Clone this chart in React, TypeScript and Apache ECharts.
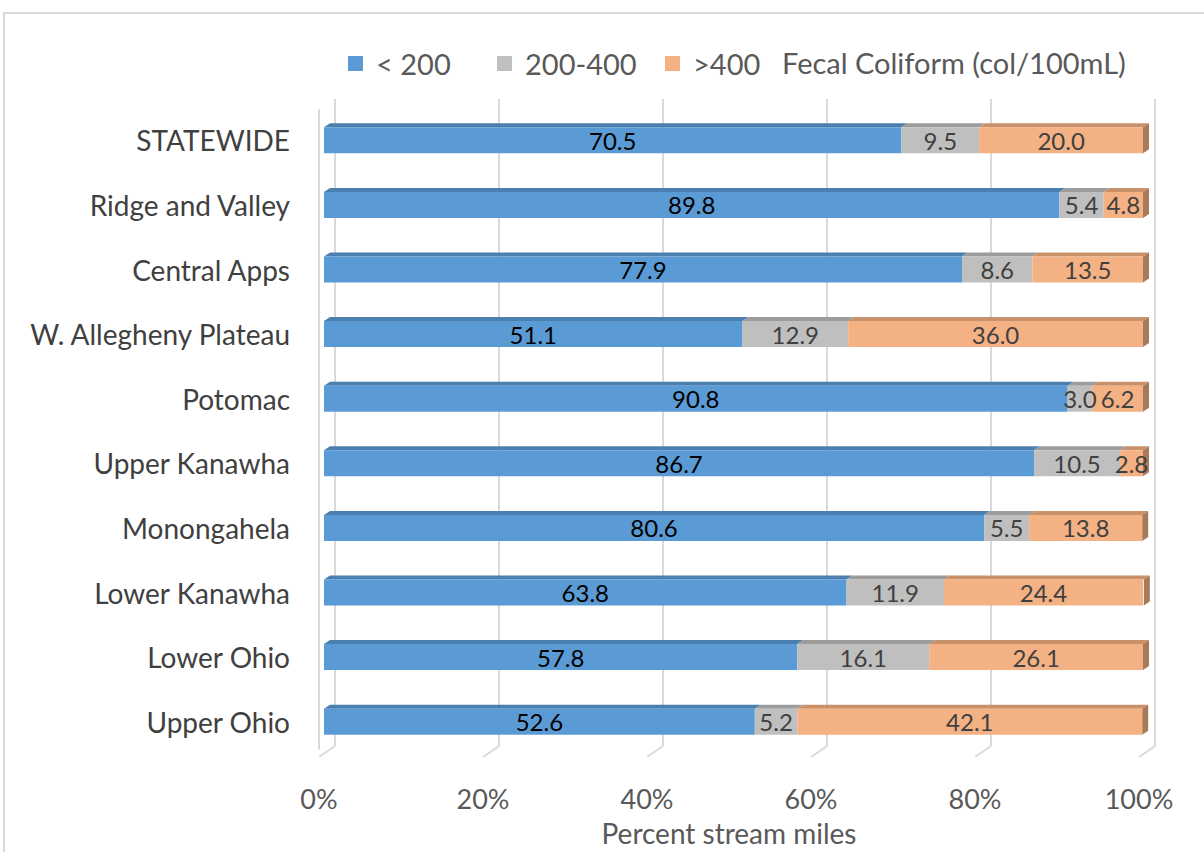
import React, { useEffect, useRef } from "react";
import * as echarts from "echarts";

const categories = [
  "STATEWIDE",
  "Ridge and Valley",
  "Central Apps",
  "W. Allegheny Plateau",
  "Potomac",
  "Upper Kanawha",
  "Monongahela",
  "Lower Kanawha",
  "Lower Ohio",
  "Upper Ohio",
];
const below200 = [70.5, 89.8, 77.9, 51.1, 90.8, 86.7, 80.6, 63.8, 57.8, 52.6];
const mid200to400 = [9.5, 5.4, 8.6, 12.9, 3.0, 10.5, 5.5, 11.9, 16.1, 5.2];
const above400 = [20.0, 4.8, 13.5, 36.0, 6.2, 2.8, 13.8, 24.4, 26.1, 42.1];
const seriesNames = ["< 200", "200-400", ">400"];
const tickValues = [0, 20, 40, 60, 80, 100];

const FRONT = ["#5b9bd5", "#bfbfbf", "#f4b183"];
const TOP = ["#4a7fb0", "#9c9c9c", "#c8916a"];
const SIDE = "#a97a58";
const FONT = "Lato";

export default function App() {
  const ref = useRef<HTMLDivElement>(null);
  useEffect(() => {
    if (!ref.current) return;
    const chart = echarts.init(ref.current, undefined, { renderer: "svg" });
    const all = [below200, mid200to400, above400];
    const segs: any[] = [];
    categories.forEach((_, ci) => {
      let acc = 0;
      all.forEach((arr, si) => {
        segs.push([acc, acc + arr[ci], ci, si]);
        acc += arr[ci];
      });
    });
    const BW = 26;
    const option: any = {
      animation: false,
      backgroundColor: "#ffffff",
      textStyle: { fontFamily: FONT },
      graphic: [
        {
          type: "rect",
          shape: { x: 4, y: 13, width: 1250, height: 900 },
          style: { fill: "none", stroke: "#d9d9d9", lineWidth: 2 },
          silent: true,
          z: -10,
        },
      ],
      title: {
        text: "Fecal Coliform (col/100mL)",
        left: 782,
        top: 48,
        padding: 0,
        textStyle: { fontFamily: FONT, fontSize: 29, fontWeight: "normal", color: "#595959" },
      },
      legend: [0, 1, 2].map((i) => ({
        data: [seriesNames[i]],
        left: [348, 497, 665][i],
        top: 49,
        padding: 0,
        itemWidth: 15,
        itemHeight: 15,
        icon: "rect",
        selectedMode: false,
        textStyle: { fontFamily: FONT, fontSize: 29, color: "#595959", padding: [0, 0, 0, 8] },
      })),
      grid: [
        { left: 324, top: 108, width: 819, height: 646 },
        { left: 319, top: 110, width: 820, height: 647 },
        { left: 335, top: 99, width: 820, height: 647 },
      ],
      xAxis: [
        { gridIndex: 0, type: "value", min: 0, max: 100, show: false },
        {
          gridIndex: 1, type: "value", min: 0, max: 100, interval: 20,
          axisLine: { show: false }, axisTick: { show: false }, splitLine: { show: false },
          axisLabel: {
            formatter: (v: number) => v + "%",
            fontFamily: FONT, fontSize: 27, color: "#595959", margin: 36,
          },
          name: "Percent stream miles",
          nameLocation: "middle",
          nameGap: 70,
          nameTextStyle: { fontFamily: FONT, fontSize: 28, color: "#595959" },
        },
        {
          gridIndex: 2, type: "value", min: 0, max: 100, interval: 20,
          axisLine: { show: false }, axisTick: { show: false }, axisLabel: { show: false },
          splitLine: { show: true, lineStyle: { color: "#d9d9d9", width: 2 } },
        },
      ],
      yAxis: [
        {
          gridIndex: 0, type: "category", data: categories, inverse: true,
          axisLine: { show: false }, axisTick: { show: false },
          axisLabel: { fontFamily: FONT, fontSize: 28, color: "#404040", margin: 34 },
        },
        {
          gridIndex: 1, type: "value", min: 0, max: 1, show: true,
          axisLine: { show: true, lineStyle: { color: "#d9d9d9", width: 2 } },
          axisTick: { show: false }, axisLabel: { show: false }, splitLine: { show: false },
        },
        { gridIndex: 2, type: "value", min: 0, max: 1, show: false },
      ],
      series: [
        {
          type: "custom",
          xAxisIndex: 2,
          yAxisIndex: 2,
          silent: true,
          data: tickValues.map((v) => [v, 0]),
          renderItem: (params: any, api: any) => {
            const p = api.coord([api.value(0), 0]);
            return {
              type: "line",
              shape: { x1: p[0], y1: p[1], x2: p[0] - 16, y2: p[1] + 11 },
              style: { stroke: "#d9d9d9", lineWidth: 2 },
            };
          },
          z: 1,
        },
        ...all.map((arr, si) => ({
          type: "bar",
          name: seriesNames[si],
          stack: "total",
          xAxisIndex: 0,
          yAxisIndex: 0,
          barWidth: BW,
          data: arr,
          itemStyle: { color: FRONT[si] },
          label: {
            show: true,
            position: "inside",
            formatter: (p: any) => Number(p.value).toFixed(1),
            fontFamily: FONT,
            fontSize: 24,
            color: si === 0 ? "#000000" : "#404040",
          },
          z: 3,
        })),
        {
          type: "custom",
          xAxisIndex: 0,
          yAxisIndex: 0,
          silent: true,
          data: segs,
          renderItem: (params: any, api: any) => {
            const s = api.value(0);
            const e = api.value(1);
            const ci = api.value(2);
            const si = api.value(3);
            const p0 = api.coord([s, ci]);
            const p1 = api.coord([e, ci]);
            const yT = p0[1] - BW / 2;
            const yB = p0[1] + BW / 2;
            const dx = 6, dy = 4;
            const children: any[] = [
              {
                type: "polygon",
                shape: { points: [[p0[0], yT], [p1[0], yT], [p1[0] + dx, yT - dy], [p0[0] + dx, yT - dy]] },
                style: { fill: TOP[si] },
              },
            ];
            if (si === 2) {
              children.push({
                type: "polygon",
                shape: { points: [[p1[0], yT], [p1[0] + dx, yT - dy], [p1[0] + dx, yB - dy], [p1[0], yB]] },
                style: { fill: SIDE },
              });
            }
            return { type: "group", children };
          },
          z: 2,
        },
      ],
    };
    chart.setOption(option);
    return () => chart.dispose();
  }, []);
  return (
    <div
      ref={ref}
      style={{ position: "fixed", left: 0, top: 0, width: 1204, height: 852, background: "#fff" }}
    />
  );
}
